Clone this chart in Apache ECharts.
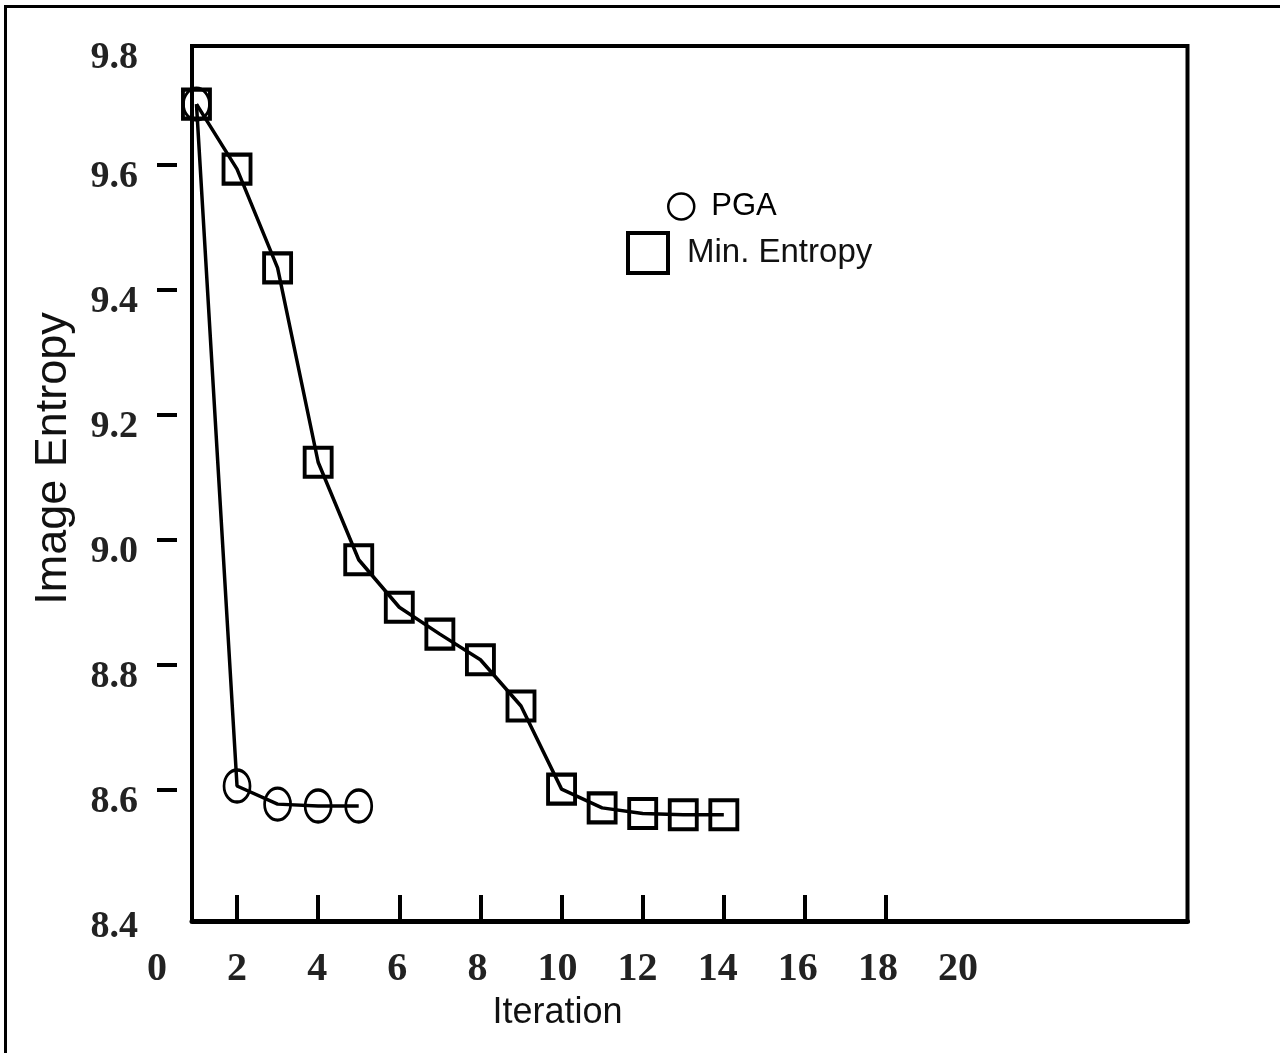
<!DOCTYPE html>
<html>
<head>
<meta charset="utf-8">
<script src="https://cdn.jsdelivr.net/npm/echarts@6/dist/echarts.min.js"></script>
<style>
  body { margin: 0; background: #fff; }
  #chart { width: 1280px; height: 1053px; }
  #frame { position: absolute; left: 4px; top: 5px; width: 1280px; height: 1053px;
           border-top: 3px solid #000; border-left: 3px solid #000; pointer-events: none; }
</style>
</head>
<body>
<div id="chart"></div>
<div id="frame"></div>
<script>
// iterations and image entropy
var pgaIter = [1, 2, 3, 4, 5];
var pgaEntropy = [9.697, 8.606, 8.577, 8.574, 8.574];
var meIter = [1, 2, 3, 4, 5, 6, 7, 8, 9, 10, 11, 12, 13, 14];
var meEntropy = [9.697, 9.593, 9.435, 9.124, 8.968, 8.892, 8.849, 8.808, 8.734, 8.601, 8.571, 8.562, 8.560, 8.560];
var xTicks = [2, 4, 6, 8, 10, 12, 14, 16, 18];
var yTicks = [8.6, 8.8, 9.0, 9.2, 9.4, 9.6];
var yLabels = [8.4, 8.6, 8.8, 9.0, 9.2, 9.4, 9.6, 9.79];

function pairs(xs, ys) {
  return xs.map(function (x, i) { return [x, ys[i]]; });
}

var sans = '"Liberation Sans", Arial, sans-serif';
var numFont = '"Liberation Serif", "Times New Roman", serif';

var chart = echarts.init(document.getElementById('chart'));
var option = {
  animation: false,
  backgroundColor: '#fff',
  grid: [
    { left: 192, right: 92.5, top: 46, bottom: 132, show: true,
      borderColor: '#000', borderWidth: 4, backgroundColor: 'transparent' },
    { left: 157, right: 322, top: 46, bottom: 132, show: false }
  ],
  legend: [
    {
      data: ['PGA'], left: 662, top: 186, orient: 'vertical',
      itemWidth: 26, itemHeight: 26, icon: 'circle',
      itemStyle: { color: 'transparent', borderColor: '#000', borderWidth: 2.5 },
      lineStyle: { width: 0, opacity: 0 },
      textStyle: { fontFamily: sans, fontSize: 31, color: '#000', padding: [0, 0, 0, 12] }
    },
    {
      data: ['Min. Entropy'], left: 621, top: 226, orient: 'vertical',
      itemWidth: 40, itemHeight: 40, icon: 'rect',
      itemStyle: { color: 'transparent', borderColor: '#000', borderWidth: 4 },
      lineStyle: { width: 0, opacity: 0 },
      textStyle: { fontFamily: sans, fontSize: 33, color: '#111', padding: [0, 0, 0, 14] }
    }
  ],
  xAxis: [
    {
      gridIndex: 0, type: 'value', min: 0.89, max: 25.43,
      axisLine: { show: true, lineStyle: { color: '#000', width: 5 } },
      axisTick: { show: true, inside: true, length: 26, customValues: xTicks,
                  lineStyle: { color: '#000', width: 4 } },
      axisLabel: { show: false },
      splitLine: { show: false }
    },
    {
      gridIndex: 1, type: 'value', min: 0, max: 20, interval: 2,
      axisLine: { show: false }, axisTick: { show: false }, splitLine: { show: false },
      axisLabel: { fontFamily: numFont, fontWeight: 'bold', fontSize: 40, color: '#222', margin: 29 },
      name: 'Iteration', nameLocation: 'middle', nameGap: 67,
      nameTextStyle: { fontFamily: sans, fontSize: 36, color: '#111' }
    }
  ],
  yAxis: [
    {
      gridIndex: 0, type: 'value', min: 8.39, max: 9.79, offset: 15,
      axisLine: { show: false },
      axisTick: { show: true, length: 20, customValues: yTicks,
                  lineStyle: { color: '#000', width: 4 } },
      axisLabel: { customValues: yLabels, margin: 39, verticalAlign: 'top', lineHeight: 24,
                   fontFamily: numFont, fontWeight: 'bold', fontSize: 38, color: '#222',
                   formatter: function (v) { return v.toFixed(1); } },
      splitLine: { show: false },
      name: 'Image Entropy', nameLocation: 'middle', nameRotate: 90, nameGap: 101,
      nameTextStyle: { fontFamily: sans, fontSize: 45, color: '#111',
                       padding: [0, 0, 0, 50] }
    },
    { gridIndex: 1, type: 'value', min: 0, max: 1, show: false }
  ],
  series: [
    {
      name: 'PGA', type: 'line', xAxisIndex: 0, yAxisIndex: 0,
      data: pairs(pgaIter, pgaEntropy),
      symbol: 'circle', symbolSize: [26, 32],
      itemStyle: { color: 'transparent', borderColor: '#000', borderWidth: 3 },
      lineStyle: { color: '#000', width: 3.5 },
      z: 3
    },
    {
      name: 'Min. Entropy', type: 'line', xAxisIndex: 0, yAxisIndex: 0,
      data: pairs(meIter, meEntropy),
      symbol: 'rect', symbolSize: [27, 29],
      itemStyle: { color: 'transparent', borderColor: '#000', borderWidth: 4 },
      lineStyle: { color: '#000', width: 3.5 },
      z: 3
    }
  ]
};
chart.setOption(option);
</script>
</body>
</html>
